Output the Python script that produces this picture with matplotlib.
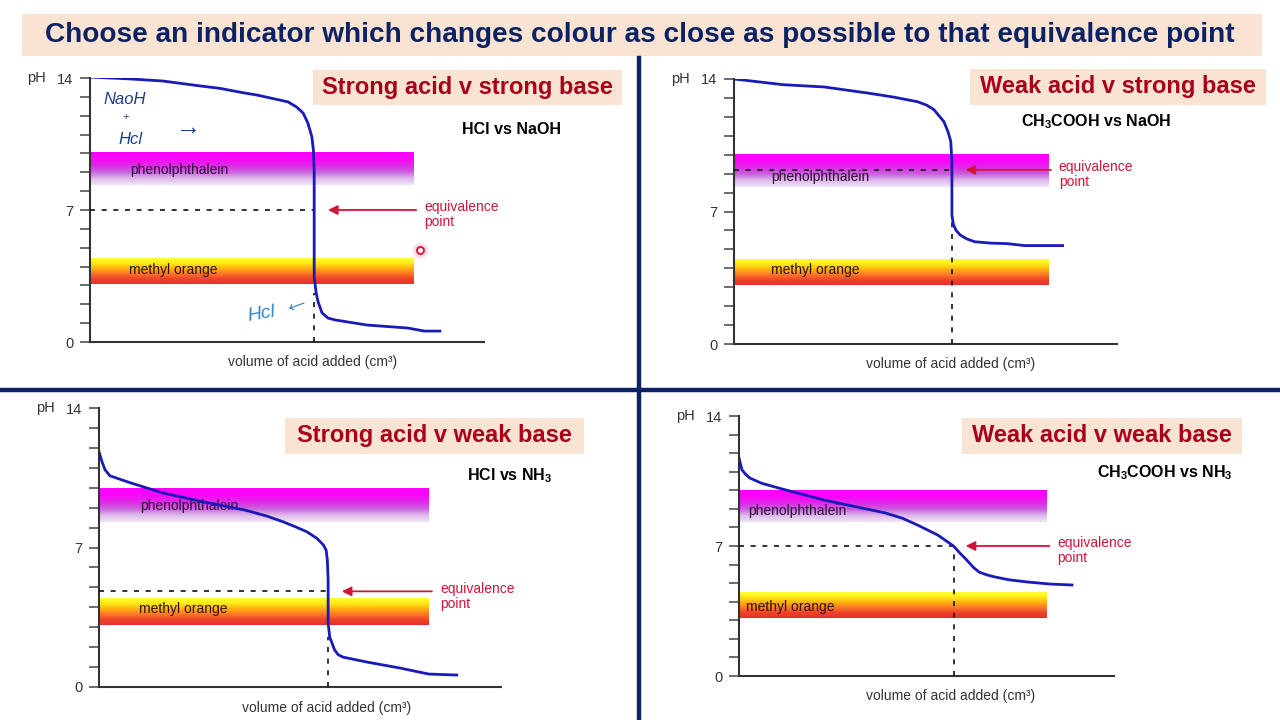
import numpy as np
import matplotlib.pyplot as plt
from matplotlib.patches import Rectangle
from matplotlib.lines import Line2D

plt.rcParams['font.family'] = ['Liberation Sans', 'DejaVu Sans']
plt.rcParams['mathtext.fontset'] = 'custom'
plt.rcParams['mathtext.rm'] = 'Liberation Sans'
plt.rcParams['mathtext.bf'] = 'Liberation Sans:bold'

W, H = 1280, 720

heading = "Choose an indicator which changes colour as close as possible to that equivalence point"
titles = ["Strong acid v strong base", "Weak acid v strong base",
          "Strong acid v weak base", "Weak acid v weak base"]
pairs = [r"HCl vs NaOH", r"CH$_\mathbf{3}$COOH vs NaOH",
         r"HCl vs NH$_\mathbf{3}$", r"CH$_\mathbf{3}$COOH vs NH$_\mathbf{3}$"]
xlabel = "volume of acid added (cm³)"

# titration curves (volume in arbitrary units 0-100, pH)
vol_ss = [0, 10.2, 18.5, 27.9, 33.0, 38.8, 42.3, 44.9, 48.2, 50.3, 52.5, 54.1, 55.3, 56.3, 56.7, 56.9,
          56.9, 57.4, 57.9, 58.9, 60.4, 62.2, 70.3, 80.7, 84.8, 88.8]
ph_ss = [14.05, 13.95, 13.84, 13.58, 13.45, 13.22, 13.1, 12.98, 12.83, 12.73, 12.45, 12.14, 11.61, 10.89, 10.18, 9.12,
         3.45, 2.6, 2.12, 1.54, 1.27, 1.17, 0.9, 0.74, 0.58, 0.58]

vol_ws = [0, 12.8, 23.5, 35.2, 41.5, 47.9, 50.3, 52.2, 54.8, 55.9, 56.6, 56.9, 56.9, 57.3, 58.0, 59.1, 60.8,
          62.9, 67.0, 71.5, 75.8, 85.8]
ph_ws = [14.0, 13.7, 13.58, 13.25, 13.05, 12.8, 12.62, 12.38, 11.75, 11.2, 10.7, 9.6, 6.8, 6.3, 6.0, 5.75, 5.55,
         5.4, 5.33, 5.3, 5.2, 5.2]

vol_sw = [0, 0.75, 1.5, 2.7, 7.9, 16, 26.2, 36.3, 41.7, 45.8, 49.2, 51.7, 54.2, 55.8, 56.5, 56.8, 57.0,
          57.0, 57.4, 58.6, 59.5, 60.7, 66.7, 74.9, 82, 89]
ph_sw = [11.8, 11.3, 10.9, 10.6, 10.24, 9.73, 9.28, 8.88, 8.58, 8.29, 8.01, 7.79, 7.46, 7.13, 6.87, 6.37, 5.37,
         3.2, 2.5, 1.86, 1.62, 1.5, 1.25, 0.95, 0.65, 0.6]

vol_ww = [0, 0.4, 0.8, 1.8, 2.9, 6.0, 10.6, 22.6, 31.0, 39.0, 43.5, 47.6, 53.0, 57.2, 59.0, 60.7, 62.5, 64.0,
          66.0, 68.3, 72.0, 77.0, 83.0, 88.8]
ph_ww = [11.74, 11.4, 11.1, 10.85, 10.66, 10.38, 10.12, 9.48, 9.12, 8.78, 8.5, 8.13, 7.59, 7.0, 6.6, 6.25, 5.85, 5.6,
         5.45, 5.33, 5.18, 5.06, 4.95, 4.9]

curves = [(vol_ss, ph_ss), (vol_ws, ph_ws), (vol_sw, ph_sw), (vol_ww, ph_ww)]

# equivalence points: volume, pH, pH where the vertical dashed line starts
eq_vol = [56.9, 56.9, 56.9, 57.2]
eq_ph = [7.0, 9.2, 4.8, 7.0]
eq_foot = [2.6, 6.8, 2.5, 7.0]

# indicator ranges
phenol_range = (8.3, 10.0)
methyl_range = (3.1, 4.45)
band_end = 82

# layout in pixels: axes (left, top, right, bottom), title boxes
axes_px = [(90, 78, 484, 342), (734, 79, 1117, 344), (99, 408, 501, 687), (739, 416, 1114, 676)]
tbox_px = [(313, 70, 622, 105), (970, 69, 1266, 105), (285, 418, 584, 454), (962, 418, 1242, 454)]
pair_px = [(511, 129), (1096, 122), (510, 476), (1165, 473)]
phenol_lbl = [(10.2, 9.1), (9.7, 8.8), (10.2, 9.1), (2.4, 8.9)]
methyl_lbl = [(9.9, 3.8), (9.7, 3.9), (10.0, 3.9), (1.9, 3.7)]

NAVY = '#0c2262'
DARKRED = '#a8001a'
PEACH = '#f9e3d3'
RED = '#cf1538'


def fx(px):
    return px / W


def fy(py):
    return 1 - py / H


fig = plt.figure(figsize=(W / 100, H / 100), dpi=100)

# heading
fig.add_artist(Rectangle((fx(22), fy(56)), (1262 - 22) / W, 42 / H, transform=fig.transFigure,
                         facecolor=PEACH, edgecolor='none'))
ht = fig.text(fx(640), fy(35), heading, ha='center', va='center', color=NAVY,
              fontsize=20, fontweight='bold')
fig.canvas.draw()
w = ht.get_window_extent().width
ht.set_fontsize(20 * 1188 / w)

# dividers
fig.add_artist(Line2D([fx(639), fx(639)], [fy(58), fy(720)], transform=fig.transFigure, color=NAVY, lw=3.2))
fig.add_artist(Line2D([0, 1], [fy(390), fy(390)], transform=fig.transFigure, color=NAVY, lw=3.2))


def gradient(colors, n=60):
    cols = np.array([[int(c[i:i + 2], 16) / 255 for i in (1, 3, 5)] for c in colors])
    t = np.linspace(0, 1, n)
    pos = np.linspace(0, 1, len(cols))
    img = np.stack([np.interp(t, pos, cols[:, k]) for k in range(3)], axis=-1)
    return img[:, None, :]


phenol_img = gradient(['#ff00ff', '#f808f8', '#e028ea', '#c860dc', '#ddb8ec', '#f0e4f6'])
methyl_img = gradient(['#ffff30', '#ffe818', '#ffb010', '#ff7828', '#ee4428', '#e83030'])

for i in range(4):
    l, t, r, b = axes_px[i]
    ax = fig.add_axes([fx(l), fy(b), (r - l) / W, (b - t) / H])

    ax.imshow(phenol_img, extent=[0, band_end, phenol_range[0], phenol_range[1]],
              aspect='auto', origin='upper', zorder=1, interpolation='bilinear')
    ax.imshow(methyl_img, extent=[0, band_end, methyl_range[0], methyl_range[1]],
              aspect='auto', origin='upper', zorder=1, interpolation='bilinear')
    ax.set_xlim(0, 100)
    ax.set_ylim(0, 14)

    ax.text(phenol_lbl[i][0], phenol_lbl[i][1], 'phenolphthalein', fontsize=10,
            color='#2a1030', va='center', zorder=2)
    ax.text(methyl_lbl[i][0], methyl_lbl[i][1], 'methyl orange', fontsize=10,
            color='#2a1010', va='center', zorder=2)

    ax.plot([0, eq_vol[i]], [eq_ph[i], eq_ph[i]], color='#111111', lw=1.2,
            ls=(0, (3, 4)), zorder=3)
    ax.plot([eq_vol[i], eq_vol[i]], [0, eq_foot[i]], color='#111111', lw=1.2,
            ls=(0, (3, 4)), zorder=3)

    vx, vy = curves[i]
    ax.plot(vx, vy, color='#1a1ab8', lw=2.0, zorder=4, solid_joinstyle='round')

    ax.annotate('', xy=(59.7, eq_ph[i]), xytext=(83.5, eq_ph[i]),
                arrowprops=dict(arrowstyle='-|>', color=RED, lw=1.3, mutation_scale=14), zorder=5)
    ax.text(84.8, eq_ph[i] - 0.25, 'equivalence\npoint', color=RED, fontsize=10,
            va='center', ha='left', linespacing=1.05)

    for s in ['top', 'right']:
        ax.spines[s].set_visible(False)
    for s in ['left', 'bottom']:
        ax.spines[s].set_color('#333333')
        ax.spines[s].set_linewidth(1.5)
    ax.set_xticks([])
    ax.set_yticks(range(15))
    ax.set_yticklabels(['0'] + [''] * 6 + ['7'] + [''] * 6 + ['14'])
    ax.tick_params(axis='y', direction='out', length=7, width=1.1, color='#444444',
                   labelsize=10.5, labelcolor='#333333', pad=5)
    ax.annotate('pH', xy=(0, 14), xytext=(-44, 0), textcoords='offset pixels',
                ha='right', va='center', fontsize=10.5, color='#333333', annotation_clip=False)
    ax.set_xlabel(xlabel, fontsize=10, color='#333333')
    ax.xaxis.set_label_coords(0.565, -0.05)
    ax.xaxis.label.set_va('top')
    ax.set_facecolor('none')

    # title box
    tl, tt, tr, tb = tbox_px[i]
    fig.add_artist(Rectangle((fx(tl), fy(tb)), (tr - tl) / W, (tb - tt) / H,
                             transform=fig.transFigure, facecolor=PEACH, edgecolor='none'))
    fig.text(fx((tl + tr) / 2), fy((tt + tb) / 2), titles[i], ha='center', va='center',
             color=DARKRED, fontsize=17, fontweight='bold')
    fig.text(fx(pair_px[i][0]), fy(pair_px[i][1]), pairs[i], ha='center', va='center',
             color='black', fontsize=11.5, fontweight='bold')

# handwritten notes on the first panel
fig.text(fx(103), fy(100), 'NaoH', color='#1d3f86', fontsize=12, fontstyle='italic', va='center')
fig.text(fx(122), fy(117), '+', color='#1d3f86', fontsize=8, va='center')
fig.text(fx(118), fy(139), 'Hcl', color='#1d3f86', fontsize=12, fontstyle='italic', va='center')
fig.text(fx(176), fy(128), '→', color='#1d3f86', fontsize=18, va='center')
fig.text(fx(246), fy(314), 'Hcl', color='#3b88c2', fontsize=14, fontstyle='italic', va='center',
         rotation=10)
fig.text(fx(278), fy(302), '←', color='#3b88c2', fontsize=20, va='center', rotation=20)

# laser pointer dot
fig.add_artist(Line2D([fx(420)], [fy(250)], transform=fig.transFigure, marker='o', ms=11,
                      color='#ff9fb0', alpha=0.35, mec='none'))
fig.add_artist(Line2D([fx(420)], [fy(250)], transform=fig.transFigure, marker='o', ms=5,
                      mfc='white', mec='#e0103a', mew=1.4))

fig.savefig('out.png', dpi=100, facecolor='white')
